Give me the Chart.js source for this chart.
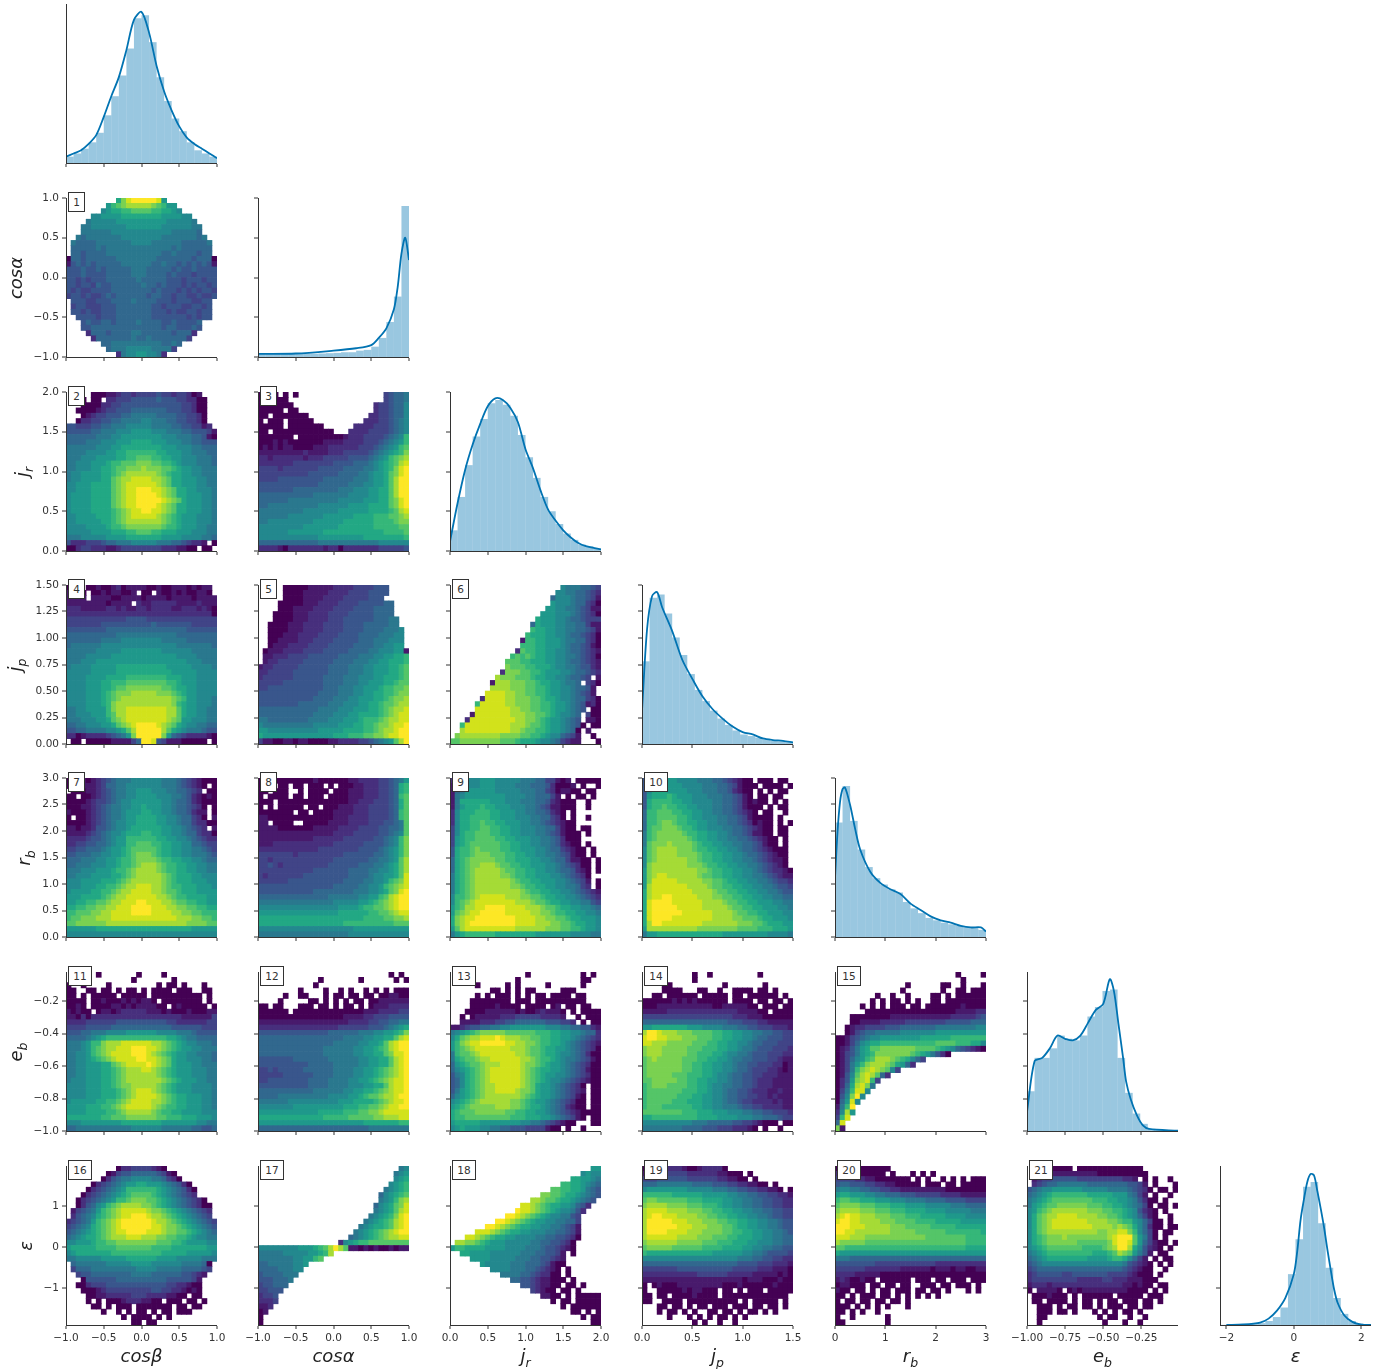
<!DOCTYPE html>
<html>
<head>
<meta charset="utf-8">
<script src="https://cdn.jsdelivr.net/npm/chart.js@4"></script>
<style>
  html, body { margin: 0; background: #fff; }
  #fig { position: relative; width: 1395px; height: 1369px; overflow: hidden; font-family: "DejaVu Sans", sans-serif; }
  canvas { position: absolute; }
  .tag { position: absolute; box-sizing: border-box; height: 20px; background: #fff; border: 1px solid #333; color: #333; font-size: 10.5px; line-height: 18px; text-align: center; }
  .lab { position: absolute; font-size: 18px; font-style: italic; color: #222; white-space: nowrap; line-height: 20px; }
  .lab sub { font-size: 12.5px; line-height: 0; }
</style>
</head>
<body>
<div id="fig"></div>
<script>
// variables, left to right / top to bottom
const varLabels = ['cos&beta;', 'cos&alpha;', 'j<sub>r</sub>', 'j<sub>p</sub>', 'r<sub>b</sub>', 'e<sub>b</sub>', '&epsilon;'];

const xRanges = [[-1, 1], [-1, 1], [0, 2], [0, 1.5], [0, 3], [-1, -0.01], [-2.19, 2.29]];
const xTicks = [
  [-1, -0.5, 0, 0.5, 1], [-1, -0.5, 0, 0.5, 1], [0, 0.5, 1, 1.5, 2], [0, 0.5, 1, 1.5],
  [0, 1, 2, 3], [-1, -0.75, -0.5, -0.25], [-2, 0, 2]
];
const xTickLabels = [
  ['−1.0', '−0.5', '0.0', '0.5', '1.0'], ['−1.0', '−0.5', '0.0', '0.5', '1.0'], ['0.0', '0.5', '1.0', '1.5', '2.0'], ['0.0', '0.5', '1.0', '1.5'],
  ['0', '1', '2', '3'], ['−1.00', '−0.75', '−0.50', '−0.25'], ['−2', '0', '2']
];
const yRanges = [[0, 100], [-1, 1], [0, 2], [0, 1.5], [0, 3], [-1, -0.02], [-1.9, 1.99]];
const yTicks = [
  [], [-1, -0.5, 0, 0.5, 1], [0, 0.5, 1, 1.5, 2], [0, 0.25, 0.5, 0.75, 1, 1.25, 1.5],
  [0, 0.5, 1, 1.5, 2, 2.5, 3], [-1, -0.8, -0.6, -0.4, -0.2], [-1, 0, 1]
];
const yTickLabels = [
  [], ['−1.0', '−0.5', '0.0', '0.5', '1.0'], ['0.0', '0.5', '1.0', '1.5', '2.0'], ['0.00', '0.25', '0.50', '0.75', '1.00', '1.25', '1.50'],
  ['0.0', '0.5', '1.0', '1.5', '2.0', '2.5', '3.0'], ['−1.0', '−0.8', '−0.6', '−0.4', '−0.2'], ['−1', '0', '1']
];

// diagonal histograms, bar heights as percent of the panel height (20 bins)
const hist0 = [4, 6, 9, 13, 19, 30, 42, 55, 72, 91, 93, 76, 54, 39, 28, 20, 13, 8, 6, 4];
const hist1 = [2, 2, 2, 2, 2, 2, 2, 2, 2.2, 2.4, 2.6, 3, 3, 4, 4.5, 6.5, 12, 22, 38, 95];
const hist2 = [13, 34, 54, 72, 83, 93, 95, 92, 85, 73, 59, 46, 34, 25, 17, 11, 7, 4, 3, 1.5];
const hist3 = [52, 92, 94, 82, 67, 56, 44, 34, 27, 21, 16, 12, 8.5, 6, 5, 4, 3, 2, 1.7, 1];
const hist4 = [72, 95, 73, 55, 44, 37, 33, 30, 28, 22, 18, 15, 12, 10.5, 9, 8, 7, 6, 6, 4.5];
const hist5 = [25, 46, 46, 52, 60, 58, 57, 60, 72, 78, 88, 89, 46, 24, 11, 4.5, 1.3, 0.5, 0.2, 0.1];
const hist6 = [0.1, 0.1, 0.2, 0.3, 0.6, 1.2, 2.5, 5, 11, 32, 54, 87, 90, 64, 36, 17, 7, 2.5, 1, 0.3];

// density curves on the diagonal
const kdeX0 = [-1, -0.9, -0.8, -0.7, -0.6, -0.5, -0.4, -0.3, -0.2, -0.1, 0, 0.1, 0.2, 0.3, 0.4, 0.5, 0.6, 0.7, 0.8, 0.9, 1];
const kdeY0 = [4, 6, 8, 12, 17.5, 29, 42, 54, 71, 90, 95, 82, 61, 45, 33, 23, 16, 12, 9, 6, 3];
const kdeX1 = [-1, -0.5, 0, 0.3, 0.5, 0.6, 0.7, 0.8, 0.85, 0.9, 0.95, 1];
const kdeY1 = [2, 2.2, 4, 5.5, 7.5, 12, 18, 30, 44, 65, 75, 61];
const kdeX2 = [0, 0.1, 0.2, 0.3, 0.4, 0.5, 0.6, 0.7, 0.8, 0.9, 1, 1.1, 1.2, 1.3, 1.4, 1.5, 1.6, 1.7, 1.8, 1.9, 2];
const kdeY2 = [6, 30, 51, 67, 80, 91, 96, 95, 90, 81, 64, 52, 38, 26, 19, 13, 8.5, 5, 3, 2, 1];
const kdeX3 = [0, 0.05, 0.1, 0.15, 0.2, 0.3, 0.4, 0.5, 0.6, 0.7, 0.8, 0.9, 1, 1.1, 1.2, 1.3, 1.4, 1.5];
const kdeY3 = [21, 72, 93, 95.5, 86, 71, 53, 41, 30, 22, 16, 11, 7.5, 6, 3.5, 2.5, 2, 1];
const kdeX4 = [0, 0.05, 0.1, 0.15, 0.2, 0.3, 0.4, 0.5, 0.7, 0.9, 1.1, 1.3, 1.5, 1.7, 1.9, 2.1, 2.3, 2.5, 2.7, 2.9, 3];
const kdeY4 = [37, 66, 85, 93, 94, 83, 68, 55, 41, 34, 30, 27, 21, 17, 13, 10.5, 9, 7, 6, 6, 3.5];
const kdeX5 = [-1, -0.95, -0.9, -0.85, -0.8, -0.75, -0.7, -0.65, -0.6, -0.55, -0.5, -0.457, -0.43, -0.4, -0.37, -0.35, -0.32, -0.28, -0.24, -0.2, -0.01];
const kdeY5 = [12, 44, 46, 52, 60, 58, 57, 60, 68, 76, 80, 95.5, 88, 67, 46, 31, 20, 10, 3.5, 1.3, 0.2];
const kdeX6 = [-2, -1.5, -1, -0.75, -0.5, -0.25, 0, 0.1, 0.2, 0.3, 0.4, 0.5, 0.6, 0.7, 0.8, 0.9, 1, 1.1, 1.2, 1.3, 1.5, 1.75, 2, 2.29];
const kdeY6 = [0.1, 0.3, 1.5, 4, 9, 17, 32, 46, 66, 79, 90, 95, 94, 84, 73, 61, 47, 34, 22, 14, 6, 1.8, 0.3, 0];

// 2d histograms: one string per row, top row first; 0-f is the colour level, '.' an empty bin.
// a row that stops short repeats its last bin up to the right edge.
const grid01 = [
"..........9cefffffe8..........",
"........8abcdddddcba88........",
".......7899aabbbbaa9987.......",
".....77888899999999888877.....",
"....6777778888888888777776....",
"...667777777888888877777766...",
"...666666777777777777666665...",
"..65666666677777777666666656..",
".6555566666667777666666555556.",
".5555565666666666666656555555.",
".5545555666666666665565555455.",
"055455555566666666555555545550",
"145454555556666665565545454541",
"444544545555566655555454454444",
"444544445555566655554544434444",
"443434445555556555554443444344",
"443443544555555655454443434434",
"434334444555555554544434343443",
"344343345455555545544344334334",
".4443344455556555544434443344.",
".3443334445555555443444334434.",
".4434334445555555444343344344.",
"..444434445555555444444434344..",
"...454455455556555544544445...",
"...445555555555555545544454...",
"....2555455556655555545552....",
".....25555555655655555553.....",
".......5566666666665565.......",
"........56667777766663........",
"..........2677887762.........."];
const grid02 = [
"..0..0001123323333433233201...",
"...0.00.22333444445444332200..",
"...0000223344444444444433200..",
"..00001233444555555544433200..",
"...0123344455666665555443320..",
"..02233445566667766655443320..",
"44333445566677777666655443312.",
"444445566677788887776665544431",
"555555666778888888877766655410",
"555566677788899998887776655444",
"666666777889999999988877766555",
"666677778899aaaaaa998887766655",
"666777888899aabbbaa99887776665",
"667778889aabbbcccbbaa987776665",
"667778899abbcccdcccbba98877666",
"677888899abcddddddcba998877666",
"677888899bcddeeeeddcb998887766",
"778889999bcdeeeeeedcb998887766",
"778889999bcdeefffeedcb99887776",
"788889999bcdeeffffedcb99888776",
"788889999bcdeefffffedcb9888776",
"788889999bcdeeffffedcb99888776",
"788889999abcdeeffeedcb99888776",
"778888999abcdeeeeedcba98887776",
"778888899abcdddddddcba98887776",
"777788889aabcccccccbaa98887766",
"777778888999aabbbaa99988877766",
"666777778888999999988887777665",
"4222333455666777776665543221.0",
"00233222112333333332221100.00."];
const grid03 = [
"00.0.0.0.................34556",
"0.0000...................34556",
"0000000................2334557",
"00000.00...............2334557",
"00.0000000............22334557",
"0.000.00000..........222334567",
"00000.0000000......22223334567",
"00.000000000000...222233334567",
"0000000.000000000122233334567a",
"00010100000001111222233345678a",
"0101011000011122222233345678ab",
"1111111112111122233333456789ac",
"22122222212223333344445678abcd",
"22222223333333344445556789abde",
"33332333333344444555566789acef",
"33333333334444445555667889bcef",
"33334444444445555556667889bdff",
"44444444444455555566677889bdff",
"44444445555555556667778899bdff",
"55555555555666666677778899bdff",
"55555566666666667777788899bcef",
"55666666666677777788889999bcef",
"66666666677777778888889999abde",
"66666677777778888889999aaabbcd",
"66777777777888888999999aaaabcc",
"77777777788888889999999aaaaabb",
"7777778888888999999999999aaaab",
"77777777777788888888899999999a",
"555555555555666666666666777777",
"222210222222212202222222333334"];
const grid04 = [
"0.0.0010012011110010011101011.",
"1110.001011001.00.10010100110.",
"1111.1111001111011110111101111",
"1111111101111.2112222211112111",
"222111112212112212222112221210",
"222222222222222222222222222220",
"333333333333444433333333333333",
"333333344444444445444444433333",
"444444445555555555555555444444",
"555555555566666666666655555555",
"555555566667777777766666555555",
"566666677777777777777766666665",
"666666777778888888877777766666",
"666677777888888888888877776666",
"666777888888888888888888777666",
"677778888899999999998888877776",
"777778888899999999999888887777",
"777788889999aaaaaaaa9998887777",
"777788899aaabbbbbbbbaa98887777",
"777788899abbcccccccbba99887777",
"77778889abcccdddddcccba9887777",
"77778889abcddddddddddcba887776",
"77778889acdddddddddddca9887776",
"66778888acddeeeeeeeeddb9887766",
"66777888abddeeeeeeeeddb9887766",
"666777889bcdeeeeeeeedcb8877766",
"5566777889bcdeffffedcb98776655",
"445566667789bdfffffdb987666544",
"2201222234568cfffffc8543222210",
".00.00000111135ffe4311100000.0"];
const grid05 = [
".....000001111122223333444....",
".....000011111222233334444....",
".....00001111222233333444.....",
"....00000111222233334444455...",
"....00011112222333344445555...",
"...000011122223333444445555...",
"...0000111222233344444455566..",
"..00001112222333344445555566..",
"..000011122223333444455556667.",
"..000111222233334444555566677.",
"..001111222333344444555666777.",
"..011122223333444445555667788.",
".01112222333344444555566777881",
".1122233334444445555666778899a",
".1223333344444455556667788999a",
"1223333344444455556667788899ab",
"2233333444444455556667788899ab",
"2333333444444555566677788999ab",
"333334444444455556667788899abb",
"3344444444444555666778889aabbc",
"4444444444445555666778899aabcc",
"4444444444455556667788899abccd",
"444444445555556667778899abbcdd",
"555555555555666677788899abcdde",
"555555555556666777889999abcdee",
"665555555566667778889aaabcddee",
"766666666667777788899aabccdeef",
"887777777777888889999aabcddeff",
"988888888888888999aaabbccdeeff",
"311001101100001122223345678bdf"];
const grid06 = [
"......................766655432",
".....................776655432",
"....................5777655431",
"....................8777655320",
"...................88776654311",
"..................888777654320",
".................988877655433",
"................5988877665531",
"................a9988776655431",
"...............a99988776554320",
"..............1aa9988876655320",
"..............aaa9988876554310",
".............2baa9988776554321",
"............ababa9988776654320",
"...........bbbaa99988776554321",
"...........cbbbaa9998776654421",
"..........2cccbbaa9888776554320",
".........dcccbbba99887765543.1",
"........1dddcccbba99887665.320",
"........ddddcccbbaa9887765541.",
".......eeeeddccbbaa9887765431.",
"......2eeeeddcccbba99877655320",
".....aeeeeeddcccbbaa9887654120",
".....eeeeeeeddccbbaa9887654.00",
"....1eeeeeeedddccbba987765.300",
"...2eeeeeeeeeddccba9887654.110",
"..aeeeeeeeeedddcbba98876540.00",
"..deeeeeeeeeddcbbaa9887650.1..",
".cddddddddccccbbaa98775431..0.",
"bbccccccccbbba999877653211...0"];
const grid07 = [
"000101234566677777766654321000",
"0101112355667777777666543210.0",
".00011234566778887776655432.00",
"00.001234566778888777665421010",
"000012334567788888877655421000",
"0001123456677889888776554320.0",
"1000123456678889988776554211.0",
"0.00123456678899998877655320.1",
"000012345677889999887765532200",
"1101124456778999999887765432.1",
"111123456778999aa9988776553220",
"222234456788aaaaaa998877654322",
"223344556788aabbbaa99887755433",
"334455567889abbbbba99887766543",
"445556677889abcccba99887766654",
"55566677889aabccccbaa998877655",
"55666777889aabcdddcbaa99887766",
"6667778889aabcddddcbaa99887766",
"66777888899abcdddddcba99988777",
"7778888999abcddddddcba99988877",
"77788899aabcddeeeddcbaa9998887",
"7888899aabcddeeeeddcbba9998888",
"8889999abcddeeeeeeddcbaa999988",
"8899aabbcddeeeffeeeddcbbaa9988",
"99aabbccddeeeffffeeeddccbbaa99",
"aabbbccddeeeeffffeeeeddccbbaaa",
"abbcccdddeeeeeeeeeeeeedddccbba",
"bbccccccddddddddddddddddccccbb",
"888888999999999999999999988888",
"777777777777777777777777777777"];
const grid08 = [
"000000000001000000112222334568",
"0.0.00.00.000.0.0001122233459a",
"00.000..0.0000.00011122233459a",
"0.0000.00.000.00001112223345ab",
"000.0000000000000011222333459b",
"0.0.00000.00.0001112223333459b",
"0000000.00.00001111222333345ab",
"1100000000000001112222333345ab",
"11.0000..00000111122223334456b",
"111100000001111122223333445 6b".replace(' ', '5'),
"11111111111111122223333344567b",
"1111111111122222233333344567ac",
"1112222222222223333334444567ac",
"2222222222223333333344445678ac",
"3333333233333333344444455678ac",
"3323333333333334444444556678bd",
"3343233333333344444455566789bd",
"3333333333344444445555667789bd",
"32333333344444444455556778 9be".replace(' ', '8'),
"33333344444444444555566778abce",
"4444444444444445555566778abcde",
"44444444444555555556667789bcef",
"555555555555556666667788abdeff",
"66666666666666677777889abcdeff",
"777777777777777788889aabbcdeff",
"8888888888888888999999aabbcdee",
"999999999999999999999aaaabbccd",
"99999999999999999aaaaaaaaaabbb",
"777777777777777777788888888888",
"666666666666666666777777777777"];
const grid09 = [
"255777888777776665533101.00000",
"1577778887777666555420001.0..0",
"15688888877777666553201100.00.",
"1678888888877776655531.0.00.0.",
"1699999988877766655421000..0..",
"168999a998887776654311000..0..",
"27999aaa998887766554210.0.....",
"2799aaaa998887776655320.0..0..",
"2799aabaa9988877665432100.....",
"3799aabbaa998877766553100.00..",
"379aabbbaa9988777665431000.0..",
"389aabbbbaa998887766542000....",
"389abbbbbbaa99887766542100.0..",
"49aabcbbbbaa998887765532100.0.",
"49aabcccbbbaa99887766543100.0.",
"59abcccccbbaa999887765531100.0",
"59abccdddcbbaa99888776543200.0",
"59abcdddddcbbaa9988776554210.0",
"69abcdddddccbaa9988877654320..",
"69abcdddddddcbaa998887765431.0",
"69abcdddddddccbaa99887766532.0",
"69abcdddddddddcbaa998877654321",
"7aabcdeeeeedddccbba99887765432",
"7abcdeeeeeeeedddcbba9988776643",
"8abddeeffffeeeedddcbba99887765",
"8bcdeefffffeeeeeddccbaa9988776",
"9cdeeffffffffeeeeddccbba998887",
"9cdefffffffffeeeedddccbba99887",
"8bdeeeeeeeeeeddddddcccbbaa9887",
"689aaaaaa999999998888888777766"];
const grid10 = [
"4777888777766655432100.000.00.",
"47888888777766655431000.0000.0",
"4799988887776665542100.0.0.00.",
"48999a9888777666554310.00.00..",
"49aaaa9988777766554310100.0.0.",
"49aabaa99887776655431000.0.00.",
"5aabbbaa998877665543210.00..0.",
"5aabbbbaa98877766554310000.0..",
"5aabccbaa99887766554320100.0.0",
"5abbcccbaa9887776655432100.00.",
"6abcccccbaa998877655431100.00.",
"6abccccccba9988776655432100.0.",
"6bcccdccccba998877665543100.0.",
"7bcddddcccbaa9988776554321000.",
"7bcddddccccbaa998877655432100.",
"7bcddddddccbaa998877665432110.",
"7cdddddddcccbaa99887766543210.",
"8cdddddddddccbaa99887765432210",
"8cdeeddddddcbbaa99887766543211",
"8ceeeeedddddccbba9988776654332",
"8deeeeeeeddddcbbaa998877665443",
"9deeeeeeeeddddcbbaa99887766544",
"9deeffeeeeedddccbbaa9988776655",
"9effffeeeeeeddddcbbaa998887766",
"9efffffeeeeedddddcbbaa99888776",
"9effffffeeeeeeddddcbbaa9988877",
"9effffeeeeeeeeddddccbbba998887",
"9dffeeeeeeeedddddddcccbba99988",
"8ddddddddddccccccccbbbbaaa9998",
"688999999999999988888888877776"];
const grid11 = [
"......0.......0....0..........",
".............0.......0........",
"0..0....0.........0.00.0...0..",
"00..00.00.0.00.0.0000.000..00.",
"00.0.00000.00000.0000000000.0.",
"0000.0010001010110.00000000.0.",
"0010.000011010111100.0100000.0",
"10100.011012222211101000100011",
"110202222222222222222221111113",
"222233333344444444443322222233",
"333344444555555555555444444333",
"444556667777888888777766654444",
"55556789aaaaaaaaaaaa99876655554",
"66678aacdddeeeeeeddcba98776665",
"66678abcddeeefffeedcba98877666",
"66778abcdeeeefffedcba988776665",
"667789abcdeeeeffeedcb988777665",
"667788899bcdeeeefedcb988877666",
"667788899abcdddeedcba988877766",
"667788899abcddddddcba988877766",
"677788899abcdddddddcba98887766",
"777788899abccdddddcba988877776",
"7777888999abcdeeedcba988877776",
"7777888999abcdeeeedcba99888776",
"78888899aabcdeeeeddcba99888776",
"8888999aabcdeeeeedcbaa99888776",
"88889999aabcdddddcbaa998888777",
"9999999aabbbccccccbbaaa9998887",
"777888888889999999988888887766",
"556666666666677777766666655445"];
const grid12 = [
"..........................0.0.",
"............0.......0......0.0",
"...........0..................",
"........0....0..0.0..0.0.0.000",
".....0..00...0.00.00.00.001100",
"....0.....00.0.0.0.00.00111111",
"00.00...000.00.0.00.0.01112222",
"000000.00000000000000111222233",
"000000000000000001111223334444",
"111111111111111111222233445566",
"222222222222222233333344456789",
"44444444444444555555666778 9ac".replace(' ', '8'),
"555555555555555556666778899bde",
"5555555555555556666677889bdeff",
"555555555555566666677889abdeff",
"5555555555555666666778899bceef",
"44444445555555666666778899bdef",
"44444444445555566666778899bdef",
"334344444555555666677889abcdef",
"333334444445555666677889abcdef",
"33444444445555666677889abcdeef",
"4444444444555566667778899bdeef",
"55555555555666666778899abcdeef",
"555566666666667777889abbcddeff",
"66666677777777778889999abcdeef",
"77777778888888888999aabbcdeeff",
"88888888888899999aaabbccdeeeee",
"9999999999999aaaaabbbbbccdddee",
"8888888888888888888889999999aa",
"555555555555555555555566666666"];
const grid13 = [
"...............0..........0.0.",
".............0............00..",
".....0.....0.0.....0......0...",
"........00.0.0.00.....000.....",
".....0.0.000.0.0.00.0000.00...",
"....00000000.000.0000000000...",
"....0000010000.0000.01.00.00..",
"...00001111110100121110.0.0000",
"..0.0111112223333322221..0.000",
"..11112223344555555444332.0.00",
"112344556677888888877766554421",
"6789abcccccbbbbbbaaa9988776552",
"79bcddeeefedddccbbaa9988765432",
"8acdeefffffeeddccbaa9987654321",
"8abcdeeeeeeedddcbba99887654320",
"6abbcdeeeeeeeddcbba99877654200",
"69abbcddeeeeeeddcbaa9876654310",
"589abbcdddeeeedccba98876543200",
"5789abcdeeeeeedcba998876543100",
"4679abcdeeeeeedcba988776543200",
"4579abcdeeeeeedcba987765432100",
"4579abcddeeeeedcb9887654320.00",
"4689abcddeeeedccb9887654321.00",
"5789abcdddddddcba9887654310.00",
"789abcddddddccba98876543200.00",
"89abcccccdddccba99876542100.00",
"9abbbccccccbbaa998876543210000",
"9aabbbbbbbbbaaa999887654310.00",
"8999998888888877665432100...00",
"7898887766554443333100.0..0..."];
const grid14 = [
"..........0..0.........0......",
"..........0...................",
"....00..........0.......0.....",
"....0000...00..0..0000.00.0...",
"..00.000000.00000.00.000000.0.",
"00000010101000000.0000.00.00.0",
"00011111111111001111100.000.00",
"1111122222222222222111100.0000",
"333333333333333333222111000000",
"555555555555555554443332211111",
"889999999888777766655443332221",
"dffedddcccbbbbaa99887766554433",
"effeedddcccbbbaa99887765544433",
"eedddcccccbbbaa998877655444333",
"cdddcccccbbbaaa998876654443332",
"cdddcccccbbaaa9987766544433322",
"bcdcccccbbbaa99887665544433211",
"bcccccccbbaa998877655443332201",
"bcccccccbbaa998877655433322101",
"bcccccbbbaaa998776554433222111",
"bbcccccbbaa9988776554432221111",
"abcccbbbbaa9987766554432221111",
"abbbbbbbaaa9987765544322211211",
"abbbbbbaaa99887765544332212111",
"abbbbbaaa999887765543322221211",
"abbbaaaaaa99887766654433222211",
"bbbbbbbbaaa9998887776655443332",
"99aaaaaaaaa9999888877766555433",
"777777777766655555443321000.00",
"66666666555544433322210.0..0.."];
const grid15 = [
"........................0....0",
".........................0....",
"..............0......00..0...0",
".............0.......0..00.000",
"........0..0..0....00.0.000000",
".......0.0.00.0.0..00.00000000",
".....0.0.0.000.00.000000010000",
"......000000000000000000111122",
"...000000001111111111112222234",
"...001111222223333333344444555",
"..012233334445555555666666667",
"..0134556666677777778888888888",
"00134567788888888999999aaaaaaa",
"001357899aaaaaaaaaaabbbbaaa997",
"0124689bbcccccccbbbba987543210",
"0134689acccccccba986420.",
"013578abdddcba9753.",
"01368acdddcb9852.",
"0136acdedcb73.",
"0147bdedb52.",
"0248cdea3.",
"0259dec6.",
"036aee7.",
"047cf7.",
"058e7.",
"16af.",
"27d8.",
"3ae.",
"5e.",
"c1."];
const grid16 = [
"..........0223333210..........",
"........01344555554310........",
".......0245667777665320.......",
".....02345678899888765420.....",
"....02345678aaaaaa98765420....",
"...023456789abbbba98765432....",
"..02345678aabcccbba987654320..",
"..024578abcddddccba9876543200.",
".134568abcdeeeeedccba98765432.",
".245679abcdeefffeddcba9876543.",
"234568abcdeffffffeddcba9876543",
"345679abcdeffffffeedccba987654",
"456789abcdeeffffeeedccbba98765",
"567899abcdddeeedddccbbaa987766",
"778889aabbccccccccbbbaa9888877",
"899999aaaabbbbbbbaaaa999999988",
"789999999aaaaaaaaaa99999888887",
"667777788888999999888877777666",
".5666666777778888777777666650.",
".35556666666667777666665555 3.".replace(' ', '4'),
"..34455555555666655555544321..",
"...044444455555555554444431...",
"..0023334444444444443322100...",
"...000123333333334433221010...",
"....00112222233322221100.00...",
"....0.0.00012221100.000.00.0..",
".....00.0.000.0000000.00.00...",
".......0..0.0.00.0.00.000.....",
"...........0.0000.0.0.........",
".............00.00............"];
const grid17 = [
"............................67",
"...........................678",
"...........................789",
"..........................789a",
".........................6789a",
"........................5789ab",
"........................678acd",
".......................5789bce",
".......................6789bde",
"......................6789acef",
".....................6789abdef",
"....................67899abdef",
"...................6789abcdeff",
"..................56789abcddee",
"................2789aabbbbbbbb",
"777777778889abdfdb110101001011",
"66666777778 9ad.".replace(' ', '8'),
"66666667788ab.",
"5566666778.",
"555566677.",
"45555666.",
"4445556.",
"344555.",
"33444.",
"2334.",
"2223.",
"112.",
"01.",
"0.",
"0."];
const grid18 = [
"............................88",
"..........................7877",
"........................998876",
"......................aa998765",
"....................bbaa998654",
"..................ccbba9987654",
"................ddcbba9987654.",
"..............eedcba99887542..",
".............feedcba9877642...",
"...........ffedcba98776643....",
".........ffedcba9887766553.....",
".......ffedcba998877665431.....",
".....eeedcba99887776655431......",
"...eedcba99887777665544320......",
".ddccba988877777665544320......",
"8aa9999888877776665443210......",
"..998888777777666554431.0......",
"....8888777776665544321......",
"......87777766655543100.....",
"........77776665543210.0.....",
"..........666655432200.0.....",
"............55443211000.0...",
"..............44321100.00.0..",
"................32100.00.0..",
"..................1100.0.000",
"....................0.00.000",
"......................0.0000",
"........................00.0.0",
"..........................0.00",
"............................00"];
const grid19 = [
"0.012222100122220.............",
"12233333322222211000.0........",
"333444444333333221100.0.......",
"5556666666555544433221100.0...",
"7888888887777766655443322110.0",
"aaaaaa9999998888877665544332211",
"bccbbbbbbaaa999988776655443322",
"cddddccccbbbaaa988776655443322",
"deeeeddddcccbbaa99887766554433",
"deffeeeddddccbbaa9988776654433",
"dfffffeeedddcccbbaa99887766544",
"dffffffeeedddcccbba99887766544",
"dffffeeeedddccccbbaa9988776654",
"deeeeeeddddcccbbbaa99988776655",
"cddddddcccccbbbaaa999887776655",
"bcccccbbbbbbaaaa99998877665544",
"a99999999999998888887766544443",
"777777777777777777766655443322",
"555555555555555555544443332221",
"333333344444444444333332221110",
"222222222223333332222211111010",
"111111111111111111110111000100",
"0.0100011111111100010000001000",
"0..000001011000.00.0.000.00000",
"00.00.000010000.0000000000000.",
"00..0000.0000000000.0.00000.0.",
"...00.00.0.00.000.000.00.00.0.",
"...0.00.0.0..00.00.0.00.0.0...",
".....0...0.0.0.00.0.0.........",
"..........0.0..0..0..........."];
const grid20 = [
"01100000000...................",
"2222100000.0...0.0.0..........",
"333322110000000.0.0..0.0.0.000",
"45544433221100000.000.00.00000",
"67766554433221111111110000000",
"89988877665554443333322221111",
"abbaa9998887776666555544443333",
"bccccbbbaaa9998888777776665555",
"cddddcccbbbaaa9999888877777666",
"defeedddcccbbbaaa9999988887777",
"effeeddddcccbbbbaaaa9999988888",
"fffeeedddddcccbbbbbaaaaa999999",
"ffeedddddddcccccbbbbbbaaaaaaa9",
"eeedddccccccccccccbbbbbbbbaaaa",
"dcccccbbbbbbbbbbbbbbbbbbbbaaaa",
"bbaaaaaaaaaaaaaaaaaaaaaaaa9999",
"988888888888888888888888888888",
"666555555555555555555555555555",
"444444443333333333332222222222",
"333333222222211111101110110011",
"222211111000000000000000000000",
"12100100.000000.000.00.000.000",
"011000.00.00.00..000.00.000.0.",
"100.00.0.00.000.00.00.0...0.0.",
"00.0.000.00.0.0.0.0.0.........0",
"0.00.00.00.00.0...............",
"000.0.0.0.0...0...............",
"00.0.0..0.....................",
"0..0......0...................",
"00........0..................."];
const grid21 = [
"....00000.0000000000000.......",
"..0001111111110000000000......",
".123344444333333333221.0.0..0.",
".23455666666555555554431.0...0",
"4567788888877777666654320.00.0",
"56789aaaaaaa999998886531.0..0.",
"6789abbbbbbbbaaa9988764200.0..",
"689abbccccccbbbaa99876530.00.0",
"78abcdddddddcccbbaa9874210.0..",
"79bcddeeeeddddccbba9875310..0.",
"79bcdeeeeeeeddddccbaa875300.0.",
"79bcdeeeeeeeeddddcdcb975200.00",
"79bcddddddddddccddeeca7530.00.",
"79abcccdccccccccdefffb8630.0..",
"79abccccccbbbbbbceffeb853100.0",
"789abbbbbbbaaaabcdffd974210.0.",
"6789aaaaaaaaa999abdcb8641.00..",
"56789999999988889aa97531.0.00.",
"4567777777777777777643210.0.0.",
"3455555555555555555432100..0..",
"2344444334444444333321000.0...",
"23333333332222233222111000....",
"1222122222222222222110100.00..",
"0.11110.0101111111110000.0.0..",
".0001000.0.000000.00000.000...",
".00.0000.0.00.0.00.000.00.0...",
"..000.0.00.00.0.000.00.00.....",
"..000.00.0...0.0.0.00.0.......",
"..00..........0.00..0..0......",
"..0............0...0..0......."];

const hists = [hist0, hist1, hist2, hist3, hist4, hist5, hist6];
const kdeXs = [kdeX0, kdeX1, kdeX2, kdeX3, kdeX4, kdeX5, kdeX6];
const kdeYs = [kdeY0, kdeY1, kdeY2, kdeY3, kdeY4, kdeY5, kdeY6];
const grids = [grid01, grid02, grid03, grid04, grid05, grid06, grid07, grid08, grid09, grid10, grid11, grid12, grid13, grid14, grid15, grid16, grid17, grid18, grid19, grid20, grid21];

const VIRIDIS = ['#440154', '#481a6c', '#472f7d', '#414487', '#39568c', '#31688e', '#2a788e', '#23888e', '#1f988b', '#22a884', '#35b779', '#54c568', '#7ad151', '#a5db36', '#d2e21b', '#fde725'];
const BINS = 30;
const INK = '#333';
const colLeft = [66, 258, 450, 642, 835, 1027, 1220];
const rowTop = [4, 198, 392, 585, 778, 972, 1166];
const PANEL_W = 151, PANEL_H = 159;
const yLabelX = [0, 16, 22, 15, 24, 16, 26];
const fig = document.getElementById('fig');

function cellsOf(rows, xr, yr) {
  const dx = (xr[1] - xr[0]) / BINS, dy = (yr[1] - yr[0]) / BINS;
  const data = [], colors = [];
  rows.forEach((row, r) => {
    const full = row.padEnd(BINS, row[row.length - 1]);
    for (let c = 0; c < BINS; c++) {
      const level = parseInt(full[c], 16);
      if (isNaN(level)) continue;
      data.push({ x: xr[0] + (c + 0.5) * dx, y: [yr[1] - (r + 1) * dy, yr[1] - r * dy] });
      colors.push(VIRIDIS[level]);
    }
  });
  return { data, colors };
}

function addPanel(r, c, datasets, extraScales) {
  const marginL = c === 0 ? 64 : 20, marginR = 16, marginT = 10, marginB = 24;
  const canvas = document.createElement('canvas');
  canvas.width = marginL + PANEL_W + marginR;
  canvas.height = marginT + PANEL_H + marginB;
  canvas.style.left = (colLeft[c] - marginL) + 'px';
  canvas.style.top = (rowTop[r] - marginT) + 'px';
  fig.appendChild(canvas);

  const tickFont = { family: '"DejaVu Sans"', size: 10.5 };
  const grid = { display: true, offset: false, drawOnChartArea: false, drawTicks: true, lineWidth: 0, tickLength: 4, tickColor: INK, tickWidth: 1 };
  const border = { display: true, color: INK, width: 1, z: 1 };
  new Chart(canvas, {
    type: 'bar',
    data: { datasets },
    options: {
      responsive: false,
      animation: false,
      devicePixelRatio: 1,
      layout: { padding: { left: 0, right: marginR, top: marginT, bottom: 0 } },
      plugins: { legend: { display: false }, tooltip: { enabled: false } },
      scales: Object.assign({
        x: {
          type: 'linear', offset: false, min: xRanges[c][0], max: xRanges[c][1],
          grid, border,
          afterBuildTicks: s => { s.ticks = xTicks[c].map(v => ({ value: v })); },
          afterFit: s => { s.height = marginB; },
          ticks: {
            autoSkip: false, maxRotation: 0, padding: 3, color: INK, font: tickFont,
            callback: (v, i) => r === 6 ? xTickLabels[c][i] : ''
          }
        },
        y: {
          type: 'linear', min: yRanges[r][0], max: yRanges[r][1],
          grid, border,
          afterBuildTicks: s => { s.ticks = yTicks[r].map(v => ({ value: v })); },
          afterFit: s => { s.width = marginL; },
          ticks: {
            autoSkip: false, padding: 3, color: INK, font: tickFont,
            callback: (v, i) => c === 0 ? yTickLabels[r][i] : ''
          }
        }
      }, extraScales || {})
    }
  });
}

// diagonal
for (let i = 0; i < 7; i++) {
  const xr = xRanges[i], dx = (xr[1] - xr[0]) / hists[i].length;
  addPanel(i, i, [
    {
      type: 'line', yAxisID: 'yh', order: 0,
      data: kdeXs[i].map((x, k) => ({ x, y: kdeYs[i][k] })),
      borderColor: '#0173b2', borderWidth: 1.8, pointRadius: 0, tension: 0.3, fill: false
    },
    {
      yAxisID: 'yh', order: 1,
      data: hists[i].map((h, k) => ({ x: xr[0] + (k + 0.5) * dx, y: h })),
      backgroundColor: 'rgba(1,115,178,0.4)', barPercentage: 1, categoryPercentage: 1, inflateAmount: 0
    }
  ], { yh: { type: 'linear', display: false, min: 0, max: 100 } });
}

// lower triangle, numbered row by row
let panelNo = 0;
for (let r = 1; r < 7; r++) {
  for (let c = 0; c < r; c++) {
    const cells = cellsOf(grids[panelNo], xRanges[c], yRanges[r]);
    addPanel(r, c, [{ data: cells.data, backgroundColor: cells.colors, barPercentage: 1, categoryPercentage: 1 }]);
    panelNo++;
    const tag = document.createElement('div');
    tag.className = 'tag';
    tag.textContent = panelNo;
    tag.style.left = (colLeft[c] + 2) + 'px';
    tag.style.top = (rowTop[r] - 6) + 'px';
    tag.style.width = (panelNo > 9 ? 24 : 17) + 'px';
    fig.appendChild(tag);
  }
}

// axis labels
varLabels.forEach((text, i) => {
  const xl = document.createElement('div');
  xl.className = 'lab';
  xl.innerHTML = text;
  xl.style.left = (colLeft[i] + PANEL_W / 2) + 'px';
  xl.style.top = '1346px';
  xl.style.transform = 'translateX(-50%)';
  fig.appendChild(xl);
  if (i === 0) return;
  const yl = document.createElement('div');
  yl.className = 'lab';
  yl.innerHTML = text;
  yl.style.left = yLabelX[i] + 'px';
  yl.style.top = (rowTop[i] + PANEL_H / 2) + 'px';
  yl.style.transform = 'translate(-50%,-50%) rotate(-90deg)';
  fig.appendChild(yl);
});
</script>
</body>
</html>
